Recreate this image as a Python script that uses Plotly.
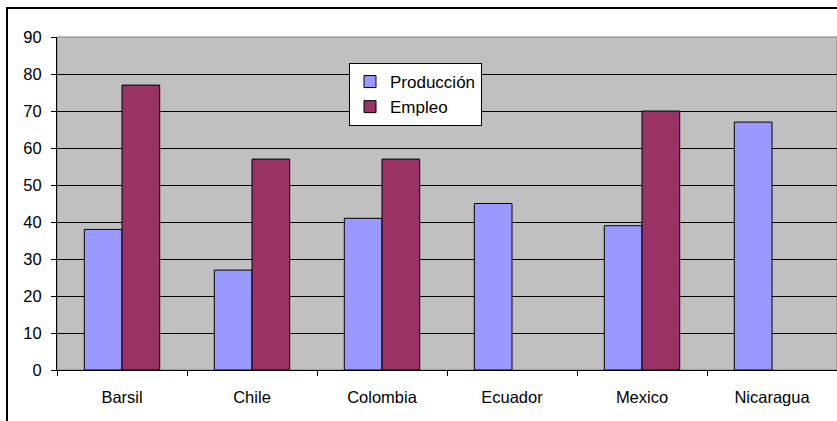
import plotly.graph_objects as go

categories = ["Barsil", "Chile", "Colombia", "Ecuador", "Mexico", "Nicaragua"]
produccion = [38, 27, 41, 45, 39, 67]
empleo = [77, 57, 57, None, 70, None]

W, H = 837, 421
L, R, T, B = 57, 0, 37, 51
pw, ph = W - L - R, H - T - B

fig = go.Figure()
fig.add_trace(go.Bar(name="Producción", x=categories, y=produccion,
                     marker=dict(color="#9999FF", line=dict(color="black", width=1))))
fig.add_trace(go.Bar(name="Empleo", x=categories, y=empleo,
                     marker=dict(color="#993366", line=dict(color="black", width=1))))

fig.update_layout(
    width=W, height=H,
    margin=dict(l=L, r=R, t=T, b=B, pad=0),
    paper_bgcolor="white", plot_bgcolor="#C0C0C0",
    barmode="group", bargap=0.42, bargroupgap=0,
    font=dict(family="Liberation Sans, Arial, sans-serif", size=16.5, color="black"),
    showlegend=True,
    legend=dict(x=(349 - L) / pw, y=1 - (63 - T) / ph, xanchor="left", yanchor="top",
                bgcolor="white", bordercolor="black", borderwidth=1,
                font=dict(size=17), tracegroupgap=0, itemwidth=30),
    xaxis=dict(showgrid=False, showline=True, linecolor="black", linewidth=1,
               ticks="outside", tickson="boundaries", ticklen=5, tickcolor="black",
               ticklabelstandoff=12, mirror=False, range=[-0.5, 5.5]),
    yaxis=dict(range=[0, 90], dtick=10, showgrid=True, gridcolor="black", gridwidth=1,
               showline=True, linecolor="black", linewidth=1, ticks="outside",
               ticklen=5, tickcolor="black", ticklabelstandoff=6, zeroline=False),
    shapes=[
        dict(type="rect", xref="paper", yref="paper", x0=0, x1=1, y0=0, y1=1,
             line=dict(color="#808080", width=1), fillcolor="rgba(0,0,0,0)", layer="below"),
        dict(type="rect", xref="paper", yref="paper",
             x0=(7 - L) / pw, x1=(W + 10 - L) / pw,
             y0=-(H + 10 - T - ph) / ph, y1=1 + (T - 8) / ph,
             line=dict(color="black", width=2), fillcolor="rgba(0,0,0,0)"),
    ],
)

fig.write_html("out.html", config={"displayModeBar": False},
               post_script="document.body.style.margin='0';document.body.style.overflow='hidden';")
